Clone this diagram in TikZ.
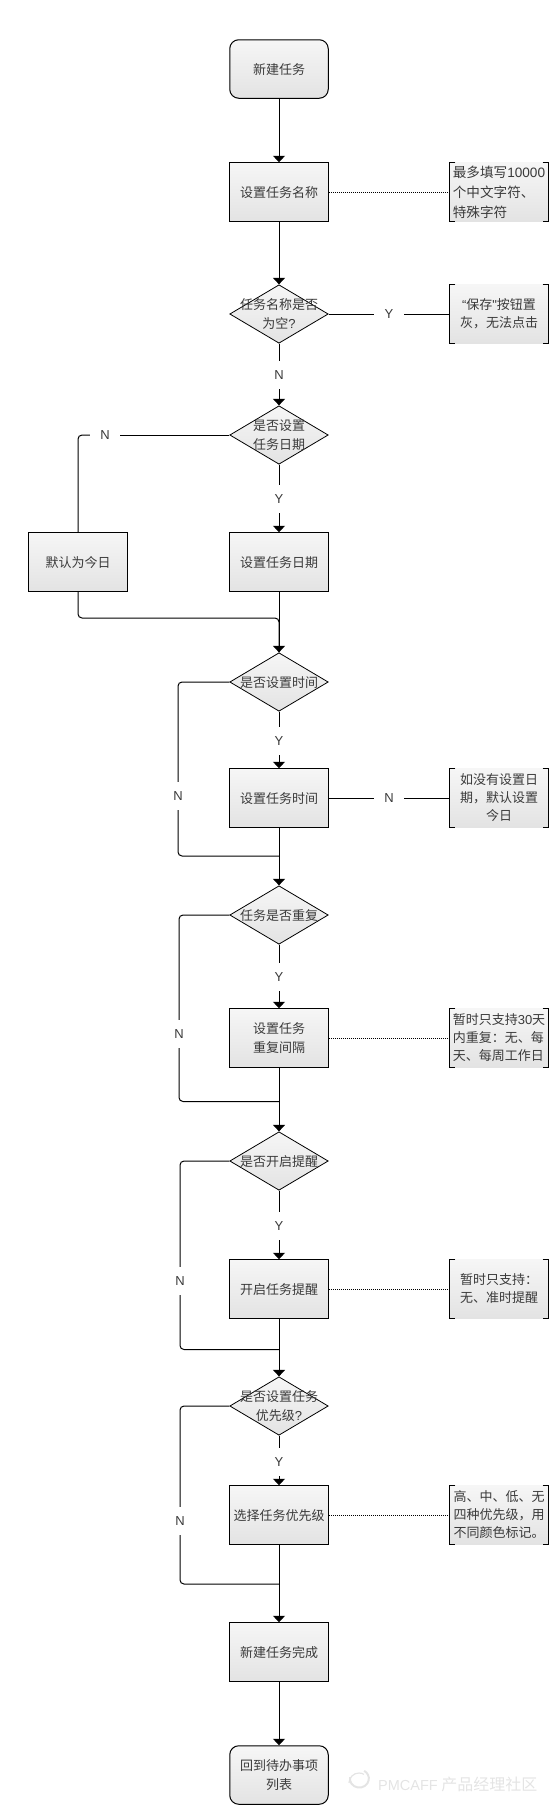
\documentclass[tikz,border=0pt]{standalone}
\usepackage{fontspec}
\setmainfont{Noto Sans CJK SC}
\newfontfamily\latfont{Liberation Sans}
\usetikzlibrary{arrows.meta,shapes.geometric}
\definecolor{boxtop}{HTML}{F6F6F6}
\definecolor{boxbot}{HTML}{E3E3E3}
\definecolor{inktext}{HTML}{3A3A3A}
\definecolor{markfg}{HTML}{E4E4E4}
\newcommand{\lat}[1]{{\latfont #1}}
\newcommand{\fcomma}{\char"FF0C\relax}
\newcommand{\fcolon}{\char"FF1A\relax}
\tikzset{
  lowtext/.style={execute at begin node={\rule{0pt}{12.8pt}}},
  task/.style={draw=black,line width=1pt,top color=boxtop,bottom color=boxbot,text=inktext,lowtext,
    minimum width=98.5pt,minimum height=58.5pt,inner sep=0pt,align=center,font=\fontsize{13}{18.5}\selectfont},
  term/.style={task,rounded corners=9pt},
  decide/.style={diamond,draw=black,line width=0.8pt,top color=boxtop,bottom color=boxbot,
    minimum width=98.5pt,minimum height=58.5pt,inner sep=0pt,
    label={[text=inktext,align=center,lowtext,font=\fontsize{13}{18.5}\selectfont]center:#1}},
  memo/.style={top color=boxtop,bottom color=boxbot,text=inktext,minimum width=99pt,minimum height=59pt,lowtext,
    inner sep=0pt,align=#1,font=\fontsize{13}{18}\selectfont},
  yn/.style={minimum width=30pt,minimum height=28pt,inner sep=0pt,text=inktext,font=\fontsize{13}{16}\selectfont\latfont},
  link/.style={line width=1pt,rounded corners=4pt},
  flow/.style={link,-{Triangle[width=12pt,length=6.5pt]}},
  hint/.style={line width=0.9pt,dash pattern=on 1pt off 1pt},
  cramp/.style={line width=1pt}
}
\begin{document}
\begin{tikzpicture}[x=1pt,y=-1pt]
\useasboundingbox (0,0) rectangle (549,1805);
\node[term] (start) at (279,69) {新建任务};
\node[task] (name) at (279,192) {设置任务名称};
\node[decide={任务名称是否\\为空\lat{?}}] (nameq) at (279,314) {};
\node[decide={是否设置\\任务日期}] (dateq) at (279,435) {};
\node[task] (date) at (279,562) {设置任务日期};
\node[task] (today) at (78,562) {默认为今日};
\node[decide={是否设置时间}] (timeq) at (279,682) {};
\node[task] (time) at (279,798) {设置任务时间};
\node[decide={任务是否重复}] (repeatq) at (279,915) {};
\node[task] (interval) at (279,1038) {设置任务\\重复间隔};
\node[decide={是否开启提醒}] (remindq) at (279,1161) {};
\node[task] (remind) at (279,1289) {开启任务提醒};
\node[decide={是否设置任务\\优先级\lat{?}}] (prioq) at (279,1406) {};
\node[task] (prio) at (279,1515) {选择任务优先级};
\node[task] (done) at (279,1652) {新建任务完成};
\node[term] (back) at (279,1775) {回到待办事项\\列表};
\node[memo=left,font=\fontsize{13.6}{20}\selectfont] (namememo) at (499,192) {最多填写\lat{10000}\\个中文字符、\\特殊字符};
\node[memo=center] (savememo) at (499,314) {\lat{“}保存\lat{"}按钮置\\灰\fcomma 无法点击};
\node[memo=center] (timememo) at (499,798) {如没有设置日\\期\fcomma 默认设置\\今日};
\node[memo=left] (intervalmemo) at (499,1038) {暂时只支持\lat{30}天\\内重复\fcolon 无、每\\天、每周工作日};
\node[memo=left] (remindmemo) at (499,1289) {暂时只支持\fcolon\\无、准时提醒};
\node[memo=left] (priomemo) at (499,1515) {高、中、低、无\\四种优先级\fcomma 用\\不同颜色标记。};
\node[yn] (ynname) at (279,375) {N};
\node[yn] (yndate) at (279,499) {Y};
\node[yn] (ynsave) at (389,314) {Y};
\node[yn] (yntoday) at (105,435) {N};
\node[yn] (yntime) at (279,741) {Y};
\node[yn] (ynskiptime) at (178,796) {N};
\node[yn] (ynset) at (389,798) {N};
\node[yn] (yninterval) at (279,977) {Y};
\node[yn] (ynskipinterval) at (179,1034) {N};
\node[yn] (ynremind) at (279,1226) {Y};
\node[yn] (ynskipremind) at (180,1281) {N};
\node[yn] (ynprio) at (279,1462) {Y};
\node[yn] (ynskipprio) at (180,1521) {N};
\coordinate (jointoday) at (279,618);
\coordinate (jointime) at (279,856);
\coordinate (joininterval) at (279,1101.5);
\coordinate (joinremind) at (279,1349.5);
\coordinate (joinprio) at (279,1584);
\foreach \a/\b in {start/name,name/nameq,ynname/dateq,yndate/date,date/timeq,yntime/time,time/repeatq,
  yninterval/interval,interval/remindq,ynremind/remind,remind/prioq,ynprio/prio,prio/done,done/back}
  \draw[flow] (\a) -- (\b);
\foreach \a/\b in {nameq/ynname,dateq/yndate,timeq/yntime,repeatq/yninterval,remindq/ynremind,prioq/ynprio,
  nameq/ynsave,ynsave/savememo,time/ynset,ynset/timememo,dateq/yntoday}
  \draw[link] (\a) -- (\b);
\draw[link] (yntoday) -| (today);
\draw[link] (today.south) |- (jointoday) -- (timeq.north);
\foreach \q/\n/\j in {timeq/ynskiptime/jointime,repeatq/ynskipinterval/joininterval,
  remindq/ynskipremind/joinremind,prioq/ynskipprio/joinprio}{
  \draw[link] (\q.west) -| (\n);
  \draw[link] (\n) |- (\j);
}
\foreach \a/\b in {name/namememo,interval/intervalmemo,remind/remindmemo,prio/priomemo}
  \draw[hint] (\a) -- (\b);
\foreach \m in {namememo,savememo,timememo,intervalmemo,remindmemo,priomemo}{
  \draw[cramp] ([xshift=6pt]\m.north west) -- (\m.north west) -- (\m.south west) -- ([xshift=6pt]\m.south west);
  \draw[cramp] ([xshift=-6pt]\m.north east) -- (\m.north east) -- (\m.south east) -- ([xshift=-6pt]\m.south east);
}
\draw[markfg,line width=2pt] (350,1777) arc (190:-60:9.5 and 9);
\draw[markfg,line width=1.2pt] (349,1783) arc (180:300:10);
\node[text=markfg,anchor=west,inner sep=0pt,font=\fontsize{16}{17}\selectfont] (mark) at (378,1784) {\lat{\fontsize{14.5}{16}\selectfont PMCAFF} 产品经理社区};
\end{tikzpicture}
\end{document}
